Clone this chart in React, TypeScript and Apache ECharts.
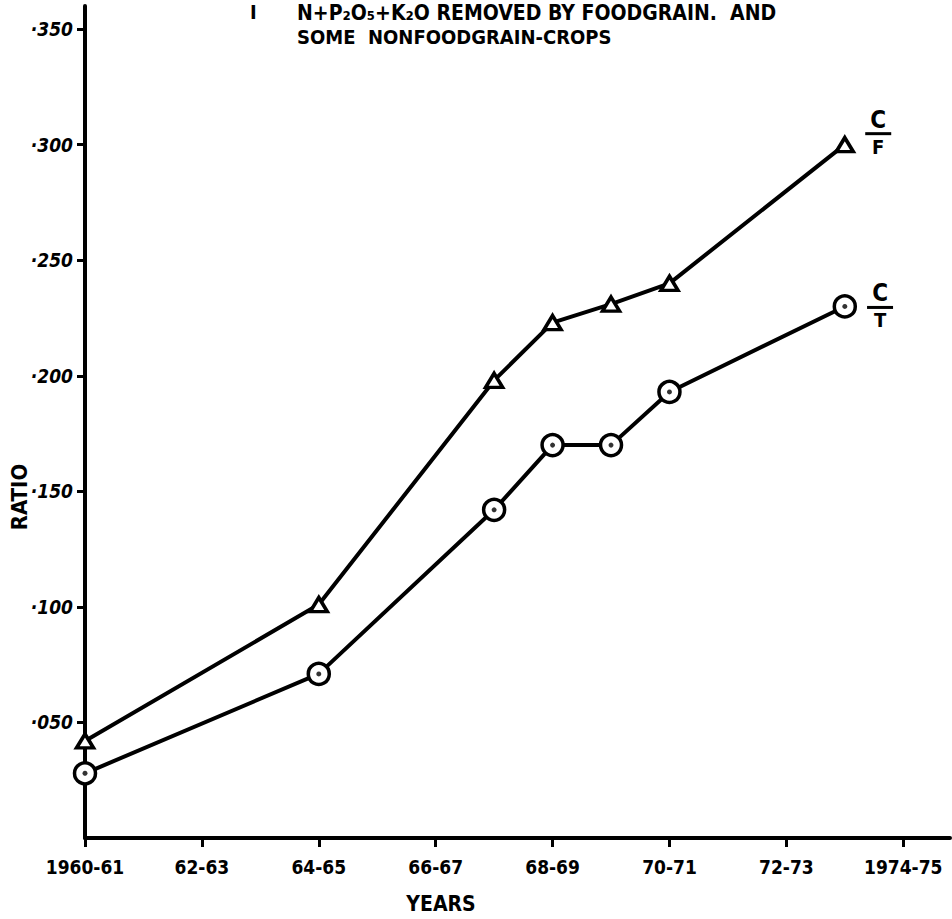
import React, { useEffect, useRef } from "react";
import * as echarts from "echarts";

const tickYears = [1960, 1962, 1964, 1966, 1968, 1970, 1972, 1974];
const tickLabels = ["1960-61", "62-63", "64-65", "66-67", "68-69", "70-71", "72-73", "1974-75"];
const pointYears = [1960, 1964, 1967, 1968, 1969, 1970, 1973];
const cfValues = [0.042, 0.101, 0.198, 0.223, 0.231, 0.24, 0.3];
const ctValues = [0.028, 0.071, 0.142, 0.17, 0.17, 0.193, 0.23];
const yTicks = [0.05, 0.1, 0.15, 0.2, 0.25, 0.3, 0.35];
const titleLine1 = "N+P\u2082O\u2085+K\u2082O REMOVED BY FOODGRAIN.  AND";
const titleLine2 = "SOME  NONFOODGRAIN-CROPS";
const xName = "YEARS";
const yName = "RATIO";

const FONT = "'Liberation Sans Narrow', 'DejaVu Sans Condensed', 'Liberation Sans', sans-serif";

export default function App() {
  const ref = useRef<HTMLDivElement>(null);
  useEffect(() => {
    if (!ref.current) return;
    const chart = echarts.init(ref.current, undefined, { renderer: "svg" });
    const cf = pointYears.map((y, i) => [y, cfValues[i]]);
    const ct = pointYears.map((y, i) => [y, ctValues[i]]);
    const fracLabel = (den: string, offY: number) => ({
      show: true,
      position: "right",
      distance: 10,
      offset: [0, offY],
      formatter: (p: any) => (p.dataIndex === pointYears.length - 1 ? `{c|C}\n{b|}\n{f|${den}}` : ""),
      rich: {
        c: { fontSize: 24, fontWeight: "bold", color: "#000", fontFamily: FONT, lineHeight: 22, align: "center" },
        b: { width: 26, height: 3, backgroundColor: "#000", lineHeight: 6, align: "center" },
        f: { fontSize: 20, fontWeight: "bold", color: "#000", fontFamily: FONT, lineHeight: 20, align: "center" },
      },
    });
    chart.setOption({
      animation: false,
      backgroundColor: "#fff",
      graphic: [
        { type: "text", left: 250, top: 2, style: { text: "I", fontSize: 20, fontWeight: "bold", fontFamily: FONT, fill: "#000" } },
        { type: "text", left: 297, top: 2, style: { text: titleLine1, fontSize: 21, fontWeight: "bold", fontFamily: FONT, fill: "#000" } },
        { type: "text", left: 297, top: 27, style: { text: titleLine2, fontSize: 20, fontWeight: "bold", fontFamily: FONT, fill: "#000" } },
        {
          type: "text",
          x: 441,
          y: 904,
          style: { text: xName, fontSize: 21, fontWeight: "bold", fontFamily: FONT, fill: "#000", align: "center", verticalAlign: "middle" },
        },
        {
          type: "text",
          x: 19,
          y: 497,
          rotation: Math.PI / 2,
          style: { text: yName, fontSize: 22, fontWeight: "bold", fontFamily: FONT, fill: "#000", align: "center", verticalAlign: "middle" },
        },
      ],
      grid: { left: 85, right: 2, top: 6, bottom: 81, containLabel: false, outerBoundsMode: "none" },
      xAxis: {
        type: "value",
        min: 1960,
        max: 1974.8,
        axisLine: { show: true, onZero: false, lineStyle: { color: "#000", width: 4 } },
        axisTick: { show: true, length: 9, inside: false, customValues: tickYears, lineStyle: { color: "#000", width: 3 } },
        axisLabel: {
          customValues: tickYears,
          margin: 19,
          fontSize: 19,
          fontWeight: "bold",
          fontFamily: FONT,
          color: "#000",
          formatter: (v: number) => {
            const i = tickYears.indexOf(Math.round(v));
            return i >= 0 ? tickLabels[i] : "";
          },
        },
        splitLine: { show: false },
      },
      yAxis: {
        type: "value",
        min: 0,
        max: 0.36,
        axisLine: { show: true, lineStyle: { color: "#000", width: 4 } },
        axisTick: { show: true, length: 8, customValues: yTicks, lineStyle: { color: "#000", width: 3 } },
        axisLabel: {
          customValues: yTicks,
          margin: 12,
          fontSize: 19,
          fontStyle: "italic",
          fontWeight: "bold",
          fontFamily: FONT,
          color: "#000",
          formatter: (v: number) => "\u00b7" + String(Math.round(v * 1000)).padStart(3, "0"),
        },
        splitLine: { show: false },
      },
      series: [
        {
          name: "C/F",
          type: "line",
          data: cf,
          symbol: "triangle",
          symbolSize: [17, 14],
          showAllSymbol: true,
          lineStyle: { color: "#000", width: 4 },
          itemStyle: { color: "#fff", borderColor: "#000", borderWidth: 3.5 },
          label: fracLabel("F", -12),
          z: 3,
        },
        {
          name: "C/T",
          type: "line",
          data: ct,
          symbol: "circle",
          symbolSize: 21,
          showAllSymbol: true,
          lineStyle: { color: "#000", width: 4 },
          itemStyle: { color: "#fff", borderColor: "#000", borderWidth: 3.5 },
          label: fracLabel("T", 0),
          z: 3,
        },
        {
          name: "C/T centre",
          type: "scatter",
          data: ct,
          symbol: "circle",
          symbolSize: 5,
          itemStyle: { color: "#000" },
          z: 5,
          silent: true,
        },
      ],
    });
    return () => chart.dispose();
  }, []);
  return <div ref={ref} style={{ position: "fixed", left: 0, top: 0, width: 952, height: 919 }} />;
}
